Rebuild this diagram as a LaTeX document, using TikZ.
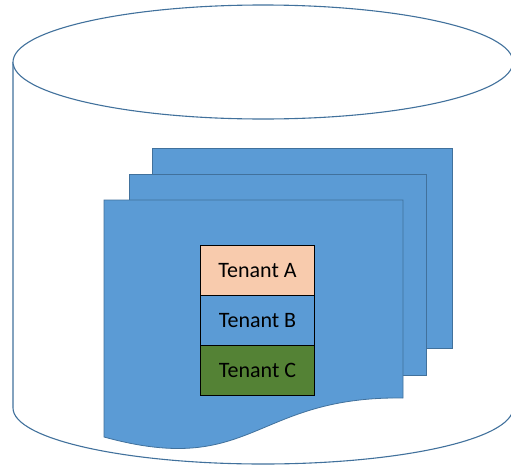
\documentclass[tikz,border=0pt]{standalone}
\usepackage{fontspec}
\setmainfont{Carlito}
\definecolor{cylline}{HTML}{41719C}
\definecolor{pagefill}{HTML}{5B9BD5}
\definecolor{pageline}{HTML}{41719C}
\definecolor{tenA}{HTML}{F8CBAD}
\definecolor{tenB}{HTML}{5B9BD5}
\definecolor{tenC}{HTML}{548235}
\tikzset{
  cyl/.style={draw=cylline, line width=1.1pt},
  page/.style={fill=pagefill, draw=pageline, line width=0.8pt},
  tenant/.style={draw=black, line width=1pt, minimum width=114pt, minimum height=50pt,
    inner sep=0pt, font=\fontsize{22}{25}\selectfont, text=black, anchor=north west}
}
\begin{document}
\begin{tikzpicture}[x=1pt, y=-1pt]
\useasboundingbox (0,0) rectangle (511,466);
% cylinder body and rims
\draw[cyl, fill=white] (13,62) -- (13,408) arc[start angle=180, end angle=0, x radius=250, y radius=56]
  -- (513,62);
\draw[cyl, fill=white] (263,62) ellipse[x radius=250, y radius=57];
% stacked pages
\draw[page] (152,148) rectangle (452,348);
\draw[page] (129,174) rectangle (426,375);
\draw[page] (104,200) -- (403,200) -- (403,398)
  .. controls (253,396) and (253,478) .. (104,437) -- cycle;
% tenants
\node[tenant, fill=tenA] (ta) at (200,245) {Tenant A};
\node[tenant, fill=tenB] (tb) at (200,295) {Tenant B};
\node[tenant, fill=tenC] (tc) at (200,345) {Tenant C};
\end{tikzpicture}
\end{document}
